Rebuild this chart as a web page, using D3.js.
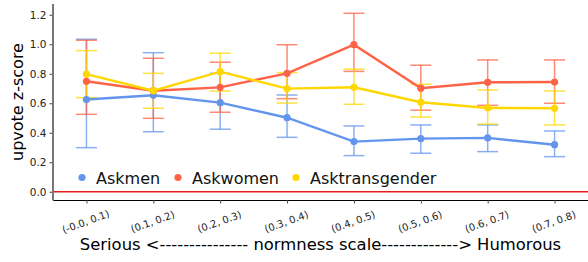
<!DOCTYPE html>
<html>
<head>
<meta charset="utf-8">
<script src="https://cdn.jsdelivr.net/npm/d3@7"></script>
<style>
  body { margin: 0; background: #fff; }
  text { font-family: "DejaVu Sans", sans-serif; }
</style>
</head>
<body>
<div id="chart"></div>
<script>
const categories = ['(-0.0, 0.1)', '(0.1, 0.2)', '(0.2, 0.3)', '(0.3, 0.4)', '(0.4, 0.5)', '(0.5, 0.6)', '(0.6, 0.7)', '(0.7, 0.8)'];
const seriesNames = ['Askmen', 'Askwomen', 'Asktransgender'];
const yTicks = [0.0, 0.2, 0.4, 0.6, 0.8, 1.0, 1.2];

// point estimates
const askmen = [0.625, 0.654, 0.604, 0.502, 0.340, 0.360, 0.365, 0.319];
const askwomen = [0.749, 0.685, 0.708, 0.803, 0.997, 0.702, 0.742, 0.744];
const asktrans = [0.797, 0.685, 0.814, 0.699, 0.708, 0.607, 0.568, 0.566];

// confidence interval bounds
const askmenLo = [0.299, 0.407, 0.424, 0.369, 0.245, 0.261, 0.272, 0.238];
const askmenHi = [1.034, 0.943, 0.803, 0.656, 0.446, 0.453, 0.453, 0.412];
const askwomenLo = [0.525, 0.498, 0.539, 0.631, 0.816, 0.553, 0.586, 0.600];
const askwomenHi = [1.027, 0.905, 0.878, 0.997, 1.210, 0.858, 0.894, 0.894];
const asktransLo = [0.638, 0.566, 0.683, 0.602, 0.593, 0.507, 0.458, 0.453];
const asktransHi = [0.957, 0.803, 0.939, 0.808, 0.831, 0.729, 0.690, 0.683];

const colors = ['#6495ED', '#FF6347', '#FFD700'];

const series = [
  {name: seriesNames[0], vals: askmen, lo: askmenLo, hi: askmenHi},
  {name: seriesNames[1], vals: askwomen, lo: askwomenLo, hi: askwomenHi},
  {name: seriesNames[2], vals: asktrans, lo: asktransLo, hi: asktransHi}
];

const W = 588, H = 262;
const margin = {t: 4, r: 0, b: 62, l: 53};

const svg = d3.select('#chart').append('svg').attr('width', W).attr('height', H);

const x = d3.scalePoint().domain(categories).range([margin.l, W - margin.r]).padding(0.5);
const y = d3.scaleLinear().domain([-0.056, 1.273]).range([H - margin.b, margin.t]);

// zero line
svg.append('line')
  .attr('x1', margin.l).attr('x2', W)
  .attr('y1', y(0)).attr('y2', y(0))
  .attr('stroke', '#e41a1c').attr('stroke-width', 1.3);

// error bars
series.forEach((s, i) => {
  const g = svg.append('g').attr('stroke', colors[i]).attr('stroke-opacity', 0.75).attr('stroke-width', 1.5);
  categories.forEach((c, j) => {
    const cx = x(c);
    g.append('line').attr('x1', cx).attr('x2', cx).attr('y1', y(s.lo[j])).attr('y2', y(s.hi[j]));
    g.append('line').attr('x1', cx - 10.5).attr('x2', cx + 10.5).attr('y1', y(s.lo[j])).attr('y2', y(s.lo[j]));
    g.append('line').attr('x1', cx - 10.5).attr('x2', cx + 10.5).attr('y1', y(s.hi[j])).attr('y2', y(s.hi[j]));
  });
});

// lines + markers
const line = d3.line().x((d, j) => x(categories[j])).y(d => y(d));
series.forEach((s, i) => {
  svg.append('path').datum(s.vals)
    .attr('d', line).attr('fill', 'none')
    .attr('stroke', colors[i]).attr('stroke-width', 2.4);
  svg.append('g').selectAll('circle').data(s.vals).join('circle')
    .attr('cx', (d, j) => x(categories[j])).attr('cy', d => y(d))
    .attr('r', 3.6).attr('fill', colors[i]);
});

// axes
const yAxis = svg.append('g').attr('transform', `translate(${margin.l},0)`)
  .call(d3.axisLeft(y).tickValues(yTicks).tickFormat(d3.format('.1f')).tickSize(3.5).tickPadding(3));
yAxis.select('.domain').remove();
yAxis.selectAll('text').attr('font-size', '10.5px').attr('font-family', 'DejaVu Sans').attr('fill', '#222');
yAxis.selectAll('.tick line').attr('stroke', '#444');

svg.append('line')
  .attr('x1', margin.l).attr('x2', margin.l)
  .attr('y1', margin.t).attr('y2', H - margin.b + 0.5)
  .attr('stroke', '#777').attr('stroke-width', 2);

const xAxis = svg.append('g').attr('transform', `translate(0,${H - margin.b})`)
  .call(d3.axisBottom(x).tickSize(3.5).tickSizeOuter(0));
xAxis.select('.domain').attr('stroke', '#000').attr('stroke-width', 1.2);
xAxis.selectAll('.tick line').attr('stroke', '#444');
xAxis.selectAll('text')
  .attr('font-size', '10px').attr('font-family', 'DejaVu Sans').attr('fill', '#222')
  .attr('text-anchor', 'middle').attr('dy', null).attr('y', 0)
  .attr('transform', 'translate(0,25) rotate(-20)');

// axis titles
svg.append('text')
  .attr('transform', `translate(23,${(margin.t + H - margin.b) / 2}) rotate(-90)`)
  .attr('text-anchor', 'middle').attr('font-size', '16px')
  .text('upvote z-score');

svg.append('text')
  .attr('x', (margin.l + W) / 2).attr('y', 250)
  .attr('text-anchor', 'middle').attr('font-size', '16.4px')
  .text('Serious <--------------- normness scale-------------> Humorous');

// legend
const legendX = [82, 178, 296];
seriesNames.forEach((n, i) => {
  svg.append('circle').attr('cx', legendX[i]).attr('cy', 177.5).attr('r', 3.6).attr('fill', colors[i]);
  svg.append('text').attr('x', legendX[i] + 14).attr('y', 183.5)
    .attr('font-size', '16px').attr('fill', '#111').text(n);
});
</script>
</body>
</html>
